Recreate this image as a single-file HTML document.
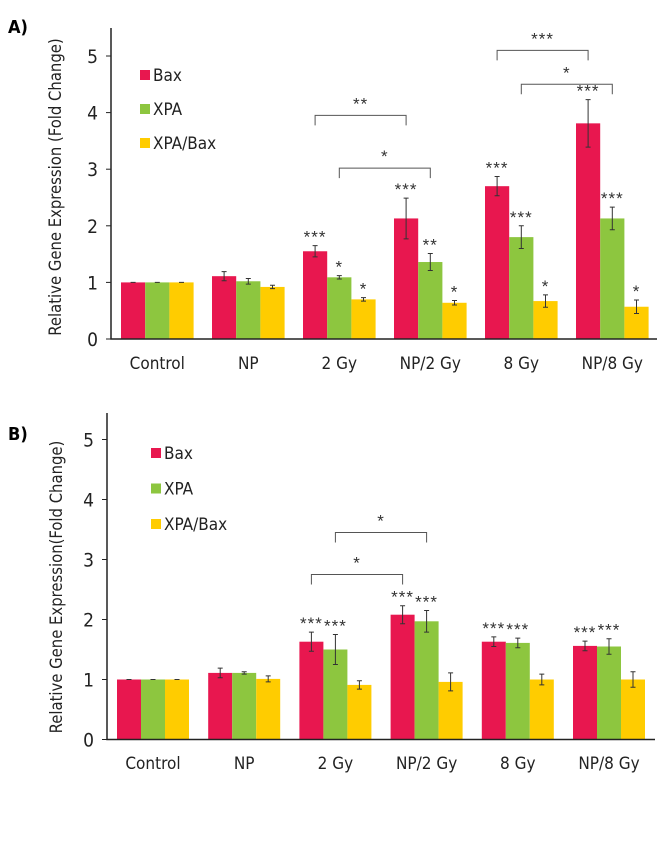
<!DOCTYPE html>
<html><head><meta charset="utf-8"><style>
body{margin:0;background:#fff;}
svg{display:block;font-family:"DejaVu Sans Condensed","Liberation Sans",sans-serif;}
</style></head><body>
<svg id="svg" width="670" height="841" viewBox="0 0 670 841">
<text x="8" y="33" font-size="18" font-weight="bold">A)</text>
<text x="8" y="440" font-size="18" font-weight="bold">B)</text>
</svg>
<script>
const categories = ["Control","NP","2 Gy","NP/2 Gy","8 Gy","NP/8 Gy"];
const seriesNames = ["Bax","XPA","XPA/Bax"];
const colors = ["#e8174f","#8dc63f","#ffcc00"];
const yTicks = [0,1,2,3,4,5];
const aBax = [1,1.11,1.55,2.13,2.7,3.81];
const aBaxErr = [0,0.08,0.1,0.36,0.17,0.42];
const aXpa = [1,1.02,1.09,1.36,1.8,2.13];
const aXpaErr = [0,0.05,0.03,0.15,0.2,0.2];
const aRatio = [1,0.92,0.7,0.64,0.67,0.57];
const aRatioErr = [0,0.03,0.03,0.04,0.11,0.12];
const aStarsBax = ["","","***","***","***","***"];
const aStarsXpa = ["","","*","**","***","***"];
const aStarsRatio = ["","","*","*","*","*"];
const bBax = [1,1.11,1.63,2.08,1.63,1.56];
const bBaxErr = [0,0.08,0.16,0.15,0.08,0.08];
const bXpa = [1,1.11,1.5,1.97,1.61,1.55];
const bXpaErr = [0,0.02,0.25,0.18,0.08,0.13];
const bRatio = [1,1.01,0.91,0.96,1.0,1.0];
const bRatioErr = [0,0.05,0.07,0.15,0.09,0.13];
const bStarsBax = ["","","***","***","***","***"];
const bStarsXpa = ["","","***","***","***","***"];
const bStarsRatio = ["","","","","",""];
// brackets: [fromCat, fromSeries, toCat, toSeries, level, label]
const aBrackets = [[2,0,3,0,3.95,"**"],[2,1,3,1,3.02,"*"],[4,0,5,0,5.1,"***"],[4,1,5,1,4.5,"*"]];
const bBrackets = [[2,0,3,0,2.75,"*"],[2,1,3,1,3.45,"*"]];

const NS="http://www.w3.org/2000/svg";
const svg=document.getElementById('svg');
function mk(tag,attrs,parent){const e=document.createElementNS(NS,tag);for(const k in attrs)e.setAttribute(k,attrs[k]);(parent||svg).appendChild(e);return e;}

function chart(cfg){
  const g=mk('g',{});
  
  
  const y=v=>cfg.y0-v*cfg.unit;
  const step=(cfg.lastBar-cfg.firstBar)/(categories.length-1);
  const bw=cfg.bw;
  const barX=(c,s)=>cfg.firstBar+c*step+s*bw;
  const data=[cfg.bax,cfg.xpa,cfg.ratio], errs=[cfg.baxErr,cfg.xpaErr,cfg.ratioErr], stars=[cfg.sBax,cfg.sXpa,cfg.sRatio];
  for(let s=0;s<3;s++){
    for(let c=0;c<categories.length;c++){
      const v=data[s][c];
      const r=mk('rect',{x:barX(c,s),y:y(v),width:bw,height:y(0)-y(v),fill:colors[s]},g);
      
      
      const e=errs[s][c], cx=barX(c,s)+bw/2;
      const eb=mk('path',{d:`M${cx},${y(v+e)}V${y(v-e)}M${cx-2.5},${y(v+e)}H${cx+2.5}M${cx-2.5},${y(v-e)}H${cx+2.5}`,stroke:'#333','stroke-width':1,fill:'none'},g);
      
      
      if(stars[s][c]){
        const t=mk('text',{x:cx,y:y(v+e)-3,'text-anchor':'middle','font-size':17,'letter-spacing':1,fill:'#333','font-family':'Liberation Sans, sans-serif'},g);
        t.textContent=stars[s][c];
        
        
      }
    }
  }
  const ax=mk('path',{d:`M${cfg.axX},${cfg.axTop}V${y(0)}H${cfg.xEnd}`,stroke:'#222','stroke-width':1.5,fill:'none'},g);
  
  
  yTicks.forEach(v=>{
    mk('line',{x1:cfg.axX-5,x2:cfg.axX,y1:y(v),y2:y(v),stroke:'#222'},g);
    const t=mk('text',{x:cfg.axX-13,y:y(v)+7,'text-anchor':'end','font-size':19,fill:'#222'},g);
    t.textContent=v;
    
    
  });
  categories.forEach((c,i)=>{
    const t=mk('text',{x:barX(i,1)+bw/2,y:cfg.labelY,'text-anchor':'middle','font-size':17,fill:'#222'},g);
    t.textContent=c;
    
    
  });
  const yt=mk('text',{x:0,y:0,'text-anchor':'middle','font-size':16.5,fill:'#222',transform:`translate(${cfg.titleX},${cfg.titleY}) rotate(-90)`},g);
  yt.textContent=cfg.title;
  
  
  seriesNames.forEach((n,i)=>{
    const ly=cfg.legY+i*cfg.legStep;
    const r=mk('rect',{x:cfg.legX,y:ly-5,width:10,height:10,fill:colors[i]},g);
    
    
    const t=mk('text',{x:cfg.legX+13,y:ly+6,'font-size':17,fill:'#222'},g);
    t.textContent=n;
    
    
  });
  cfg.brackets.forEach(b=>{
    const x1=barX(b[0],b[1])+bw/2, x2=barX(b[2],b[3])+bw/2, by=y(b[4]);
    const p=mk('path',{d:`M${x1},${by+10}V${by}H${x2}V${by+10}`,stroke:'#555','stroke-width':1,fill:'none'},g);
    
    
    const t=mk('text',{x:(x1+x2)/2,y:by-6,'text-anchor':'middle','font-size':17,'letter-spacing':1,fill:'#333','font-family':'Liberation Sans, sans-serif'},g);
    t.textContent=b[5];
    
    
  });
}
chart({name:'chart-a',y0:339,unit:56.6,axX:111,axTop:28,xEnd:657,firstBar:121,lastBar:576,bw:24.2,
  bax:aBax,baxErr:aBaxErr,xpa:aXpa,xpaErr:aXpaErr,ratio:aRatio,ratioErr:aRatioErr,sBax:aStarsBax,sXpa:aStarsXpa,sRatio:aStarsRatio,
  labelY:369,title:'Relative Gene Expression (Fold Change)',titleX:61,titleY:187,legX:140,legY:75,legStep:34,brackets:aBrackets});
chart({name:'chart-b',y0:739.5,unit:60,axX:107,axTop:413,xEnd:655,firstBar:117,lastBar:573,bw:24,
  bax:bBax,baxErr:bBaxErr,xpa:bXpa,xpaErr:bXpaErr,ratio:bRatio,ratioErr:bRatioErr,sBax:bStarsBax,sXpa:bStarsXpa,sRatio:bStarsRatio,
  labelY:769,title:'Relative Gene Expression(Fold Change)',titleX:62,titleY:587,legX:151,legY:453,legStep:35.5,brackets:bBrackets});
</script>
</body></html>
